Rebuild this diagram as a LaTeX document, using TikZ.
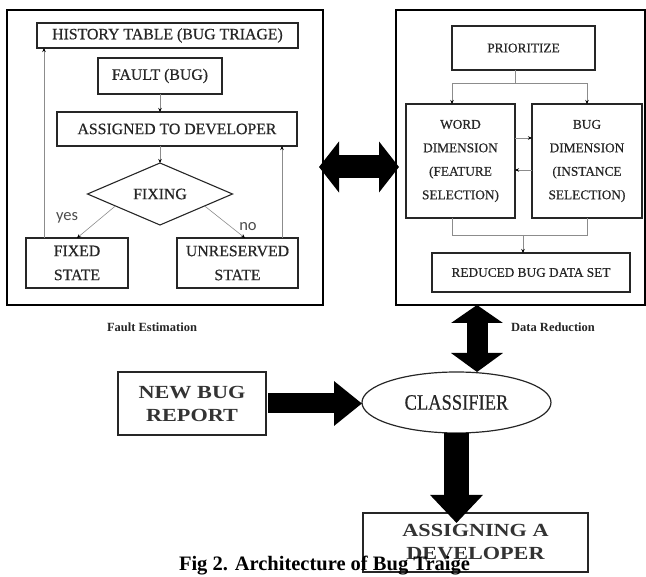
\documentclass[tikz,border=0pt]{standalone}
\usepackage{fontspec}
\usepackage{graphicx}
\setmainfont{Liberation Serif}
\newfontfamily\yesfont{Carlito}
\newfontfamily\boxfont{Liberation Serif}[FakeBold=0.6]
\usetikzlibrary{arrows.meta,shapes.geometric,calc}
\newcommand{\widetxt}[1]{\scalebox{1.2}[1]{#1}}
\newcommand{\narrowtxt}[1]{\scalebox{0.84}[1]{#1}}
\begin{document}
\begin{tikzpicture}[x=1pt,y=-1pt,
  every node/.style={inner sep=0pt, outer sep=0pt},
  outerbox/.style={draw=black, line width=1.5pt},
  lbox/.style={draw=black!85, line width=1.1pt, align=center, text=black!85,
    font=\boxfont\fontsize{15.8}{24}\selectfont},
  rbox/.style={draw=black!85, line width=1.1pt, align=center, text=black!85,
    font=\boxfont\fontsize{13.3}{23.5}\selectfont},
  conn/.style={draw=black!45, line width=0.6pt},
  tip/.style={-{Stealth[length=4pt,width=3.5pt,black]}},
  big/.style={draw=black, fill=black},
  copper/.style={draw=black!85, line width=1.2pt, align=center, text=black!80,
    font=\bfseries\fontsize{18.5}{23}\selectfont},
  sublabel/.style={font=\bfseries\fontsize{12.5}{14}\selectfont, text=black!85},
  yn/.style={font=\yesfont\fontsize{16.5}{18}\selectfont, text=black!70}
]
\useasboundingbox (0,0) rectangle (646,577);

% outer boxes
\node[outerbox, minimum width=316pt, minimum height=295pt] (lbx) at (165,157.5) {};
\node[outerbox, minimum width=249pt, minimum height=295pt] (rbx) at (520.5,157.5) {};

% left (fault estimation) boxes
\node[lbox, minimum width=261pt, minimum height=25pt] (hist) at (167.5,35.5) {HISTORY TABLE (BUG TRIAGE)};
\node[lbox, minimum width=124pt, minimum height=36pt] (fault) at (160,76) {FAULT (BUG)};
\node[lbox, minimum width=240pt, minimum height=34pt] (assigned) at (177,129) {ASSIGNED TO DEVELOPER};
\node[lbox, diamond, aspect=2.3, minimum width=145pt, minimum height=62pt] (dia) at (160,194) {FIXING};
\node[lbox, minimum width=102pt, minimum height=50pt] (fixed) at (77,263) {FIXED\\STATE};
\node[lbox, minimum width=121pt, minimum height=50pt] (unr) at (237.5,263) {UNRESERVED\\STATE};

\draw[conn,tip] (fault.south) -- (fault.south |- assigned.north);
\draw[conn,tip] (dia.north |- assigned.south) -- (dia.north);
\draw[conn,tip] (dia.195) -- (fixed.north);
\draw[conn,tip] (dia.-15) -- ([xshift=7.5pt]unr.north);
\coordinate (lx) at (44,0);
\draw[conn,tip] (fixed.north -| lx) -- (hist.south -| lx);
\coordinate (rx) at (282,0);
\draw[conn,tip] (unr.north -| rx) -- (assigned.south -| rx);
\node[yn] (yes) at (67,218) {yes};
\node[yn] (no) at (248,227) {no};

% right (data reduction) boxes
\node[rbox, minimum width=143pt, minimum height=44pt] (prio) at (523.5,48) {PRIORITIZE};
\node[rbox, minimum width=109pt, minimum height=114pt] (word) at (460.5,161) {WORD\\DIMENSION\\(FEATURE\\SELECTION)};
\node[rbox, minimum width=110pt, minimum height=114pt] (bug) at (587,161) {BUG\\DIMENSION\\(INSTANCE\\SELECTION)};
\node[rbox, minimum width=198pt, minimum height=39pt] (red) at (531,272.5) {REDUCED BUG DATA SET};

\coordinate (pj) at (515,83);
\coordinate (wx) at (452,0);
\draw[conn] (prio.south -| pj) -- (pj);
\draw[conn,tip] (pj) -| (word.north -| wx);
\draw[conn,tip] (pj) -| (bug.north);
\draw[conn,tip] ([yshift=23pt]word.east) -- ([yshift=23pt]word.east -| bug.west);
\draw[conn,tip] ([yshift=-9pt]bug.west) -- ([yshift=-9pt]bug.west -| word.east);
\coordinate (bj) at (523,235);
\draw[conn] (word.south -| wx) |- (bug.south |- bj) -- (bug.south);
\draw[conn,tip] (bj) -- (bj |- red.north);

\node[sublabel] (fe) at (152,327) {Fault Estimation};
\node[sublabel] (drl) at (553,327) {Data Reduction};

% lower part
\node[copper, minimum width=148pt, minimum height=63pt] (nb) at (192,403.5) {\widetxt{NEW BUG}\\\widetxt{REPORT}};
\node[draw=black!85, line width=1.2pt, ellipse, minimum width=189pt, minimum height=61pt,
  text=black!85, font=\boxfont\fontsize{22}{22}\selectfont] (ell) at (456.5,402.5) {\narrowtxt{CLASSIFIER}};
\node[copper, minimum width=225pt, minimum height=59pt] (asg) at (475.5,542.5) {\widetxt{ASSIGNING A}\\\widetxt{DEVELOPER}};

% block arrows
\draw[big, line width=23pt, {Triangle[length=20pt,width=50pt]}-{Triangle[length=20pt,width=50pt]}]
  ([xshift=-4pt,yshift=-9.5pt]lbx.east) -- ([xshift=3pt,yshift=-9.5pt]rbx.west);
\coordinate (vx) at (477,0);
\draw[big, line width=21pt, {Triangle[length=18pt,width=51pt]}-{Triangle[length=19pt,width=51pt]}]
  (rbx.south -| vx) -- (ell.north -| vx);
\draw[big, line width=20pt, -{Triangle[length=28pt,width=43pt]}]
  ([xshift=2pt]nb.east) -- (nb.east -| ell.west);
\coordinate (dt) at (456,523);
\draw[big, line width=25pt, -{Triangle[length=28pt,width=51pt]}]
  (ell.south) -- (ell.south |- dt);

% caption
\node[anchor=base west, font=\bfseries\fontsize{20.5}{22}\selectfont] (cap) at (179,570) {Fig 2. Architecture of Bug Traige};
\end{tikzpicture}
\end{document}
